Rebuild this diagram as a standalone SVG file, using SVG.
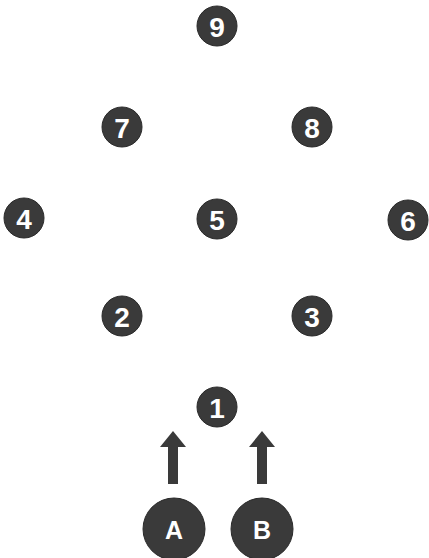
<svg xmlns="http://www.w3.org/2000/svg" width="429" height="558" viewBox="0 0 429 558">
<style>
.n{fill:#3a3a3a;stroke:#2a2a2a;stroke-width:1}
.t{fill:#ffffff;font-family:"Liberation Sans",Arial,sans-serif;font-weight:bold;text-anchor:middle;dominant-baseline:central}
.s{font-size:28px}
.l{font-size:25px}
.ar{fill:#3a3a3a}
</style>
<rect width="429" height="558" fill="#ffffff"/>
<g id="n9"><circle class="n" cx="217" cy="26" r="20"/><text class="t s" x="217" y="27">9</text></g>
<g id="n7"><circle class="n" cx="122" cy="127" r="20"/><text class="t s" x="122" y="128">7</text></g>
<g id="n8"><circle class="n" cx="312" cy="127" r="20"/><text class="t s" x="312" y="128">8</text></g>
<g id="n4"><circle class="n" cx="24" cy="218" r="20"/><text class="t s" x="24" y="219">4</text></g>
<g id="n5"><circle class="n" cx="217" cy="219" r="20"/><text class="t s" x="217" y="220">5</text></g>
<g id="n6"><circle class="n" cx="408" cy="220" r="20"/><text class="t s" x="408" y="221">6</text></g>
<g id="n2"><circle class="n" cx="122" cy="316" r="20"/><text class="t s" x="122" y="317">2</text></g>
<g id="n3"><circle class="n" cx="312" cy="316" r="20"/><text class="t s" x="312" y="317">3</text></g>
<g id="n1"><circle class="n" cx="217" cy="407" r="20"/><text class="t s" x="217" y="408">1</text></g>
<g id="nA"><circle class="n" cx="174" cy="529" r="31"/><text class="t l" x="174" y="530">A</text></g>
<g id="nB"><circle class="n" cx="262" cy="529" r="31"/><text class="t l" x="262" y="530">B</text></g>
<g id="connectors">
<path class="ar" d="M168,484 L168,447 L160,447 L173,431 L186,447 L178,447 L178,484 Z"/>
<path class="ar" d="M257,484 L257,447 L249,447 L262,431 L275,447 L267,447 L267,484 Z"/>
</g>
</svg>
